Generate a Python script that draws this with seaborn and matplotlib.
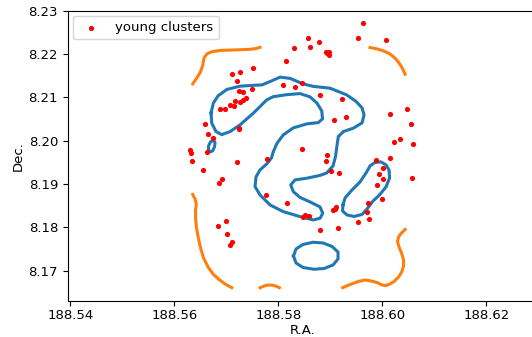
import matplotlib
matplotlib.use("Agg")
import matplotlib.pyplot as plt
import seaborn as sns
import pandas as pd

# Young star clusters (R.A., Dec. in degrees)
cluster_ra = [
    188.57504, 188.57115, 188.57267, 188.57212, 188.57235, 188.57321, 188.57500,
    188.57375, 188.57325, 188.57260, 188.57171, 188.57075, 188.57144, 188.56879,
    188.56971, 188.57244, 188.57235, 188.56587, 188.56642, 188.56750, 188.56294,
    188.56317, 188.56337, 188.56623, 188.57212, 188.56552, 188.56917, 188.56860,
    188.57754, 188.56994, 188.56846, 188.57008, 188.57104, 188.57065, 188.59629,
    188.59533, 188.60077, 188.58571, 188.58788, 188.58296, 188.58610, 188.58917,
    188.58975, 188.58969, 188.58937, 188.58154, 188.58096, 188.58321, 188.58462,
    188.58808, 188.59225, 188.59062, 188.59302, 188.60154, 188.60481, 188.60552,
    188.60225, 188.60335, 188.60590, 188.58462, 188.57788, 188.58937, 188.58917,
    188.59879, 188.60154, 188.60019, 188.59008, 188.59173, 188.59937, 188.60008,
    188.60565, 188.59898, 188.58173, 188.59994, 188.59729, 188.59706, 188.59115,
    188.59096, 188.59046, 188.58513, 188.58469, 188.58596, 188.59738, 188.59533,
    188.58808, 188.59148,
]
cluster_dec = [
    8.21666, 8.21528, 8.21581, 8.21378, 8.21147, 8.21124, 8.21198,
    8.20992, 8.20939, 8.20900, 8.20904, 8.20812, 8.20796, 8.20724,
    8.20724, 8.20293, 8.20270, 8.20390, 8.20159, 8.20067, 8.19794,
    8.19721, 8.19538, 8.19734, 8.19497, 8.19319, 8.19121, 8.19028,
    8.18751, 8.18147, 8.18024, 8.17853, 8.17655, 8.17586, 8.22723,
    8.22363, 8.22324, 8.22377, 8.22285, 8.22139, 8.22162, 8.22047,
    8.22047, 8.21966, 8.22012, 8.21846, 8.21285, 8.21232, 8.21331,
    8.21048, 8.20955, 8.20484, 8.20540, 8.20611, 8.20724, 8.20378,
    8.19974, 8.20046, 8.19931, 8.19804, 8.19573, 8.19665, 8.19527,
    8.19559, 8.19589, 8.19365, 8.19301, 8.19243, 8.19224, 8.19121,
    8.19127, 8.18973, 8.18569, 8.18659, 8.18555, 8.18347, 8.18470,
    8.18423, 8.18394, 8.18285, 8.18232, 8.18262, 8.18200, 8.18117,
    8.17946, 8.17985,
]

# Inner (blue) contour level: S-shaped region
s_ra = [
    188.56706, 188.56750, 188.56840, 188.57013, 188.57263, 188.57513, 188.57687,
    188.57840, 188.58033, 188.58225, 188.58475, 188.58667, 188.58994, 188.59315,
    188.59494, 188.59610, 188.59648, 188.59610, 188.59442, 188.59250, 188.59154,
    188.59125, 188.59100, 188.59052, 188.58931, 188.58802, 188.58546, 188.58321,
    188.58238, 188.58288, 188.58417, 188.58610, 188.58802, 188.58854, 188.58802,
    188.58673, 188.58417, 188.58096, 188.57840, 188.57648, 188.57552, 188.57571,
    188.57648, 188.57777, 188.57869, 188.57904, 188.57975, 188.58096, 188.58288,
    188.58546, 188.58769, 188.58850, 188.58835, 188.58744, 188.58610, 188.58417,
    188.58162, 188.57904, 188.57777, 188.57519, 188.57263, 188.57071, 188.56912,
    188.56802, 188.56719, 188.56706,
]
s_dec = [
    8.20639, 8.20863, 8.21031, 8.21181, 8.21255, 8.21274, 8.21285,
    8.21361, 8.21463, 8.21435, 8.21308, 8.21251, 8.21209, 8.21054,
    8.20904, 8.20754, 8.20593, 8.20408, 8.20286, 8.20207, 8.20092,
    8.19861, 8.19631, 8.19416, 8.19254, 8.19197, 8.19132, 8.19093,
    8.18977, 8.18823, 8.18689, 8.18585, 8.18470, 8.18324, 8.18209,
    8.18170, 8.18246, 8.18361, 8.18516, 8.18747, 8.18938, 8.19162,
    8.19324, 8.19462, 8.19600, 8.19746, 8.19940, 8.20131, 8.20293,
    8.20385, 8.20415, 8.20501, 8.20685, 8.20863, 8.21008, 8.21084,
    8.21059, 8.21013, 8.20939, 8.20632, 8.20362, 8.20207, 8.20138,
    8.20207, 8.20401, 8.20639,
]

# Small blue island west of the S
knot_ra = [188.56658, 188.56658, 188.56696, 188.56754, 188.56783,
           188.56773, 188.56735, 188.56687, 188.56658]
knot_dec = [8.19774, 8.19877, 8.19970, 8.20004, 8.19958,
            8.19854, 8.19762, 8.19739, 8.19774]

# Elongated blue loop to the east
loop_ra = [
    188.59244, 188.59283, 188.59417, 188.59571, 188.59687, 188.59764, 188.59860,
    188.59975, 188.60071, 188.60129, 188.60139, 188.60071, 188.59937, 188.59821,
    188.59706, 188.59610, 188.59456, 188.59321, 188.59235, 188.59244,
]
loop_dec = [
    8.18516, 8.18677, 8.18862, 8.19047, 8.19254, 8.19416, 8.19497,
    8.19508, 8.19439, 8.19324, 8.19139, 8.18931, 8.18735, 8.18608,
    8.18423, 8.18297, 8.18250, 8.18285, 8.18377, 8.18516,
]

# Blue oval in the south
oval_ra = [
    188.58292, 188.58340, 188.58475, 188.58667, 188.58860, 188.59033, 188.59148,
    188.59148, 188.59052, 188.58879, 188.58687, 188.58475, 188.58340, 188.58292,
]
oval_dec = [
    8.17339, 8.17500, 8.17604, 8.17655, 8.17639, 8.17558, 8.17431,
    8.17270, 8.17131, 8.17050, 8.17032, 8.17073, 8.17177, 8.17339,
]

# Outer (orange) contour level, open segments
outer_nw_ra = [188.56354, 188.56427, 188.56504, 188.56548, 188.56571, 188.56629,
               188.56725, 188.56879, 188.57200, 188.57456, 188.57571, 188.57648]
outer_nw_dec = [8.21308, 8.21435, 8.21585, 8.21747, 8.21908, 8.22001,
                8.22051, 8.22079, 8.22093, 8.22105, 8.22123, 8.22151]

outer_ne_ra = [188.59764, 188.59898, 188.60019, 188.60129, 188.60212,
               188.60283, 188.60340, 188.60392, 188.60437]
outer_ne_dec = [8.22146, 8.22116, 8.22070, 8.22012, 8.21936,
                8.21851, 8.21758, 8.21654, 8.21532]

outer_sw_ra = [188.56354, 188.56398, 188.56423, 188.56408, 188.56408, 188.56427,
               188.56462, 188.56504, 188.56562, 188.56648, 188.56750, 188.56860,
               188.56975, 188.57104]
outer_sw_dec = [8.18758, 8.18654, 8.18539, 8.18400, 8.18216, 8.17985,
                8.17754, 8.17523, 8.17293, 8.17085, 8.16916, 8.16796,
                8.16693, 8.16607]

outer_s_ra = [188.57648, 188.57725, 188.57802, 188.57888, 188.57965, 188.58019]
outer_s_dec = [8.16607, 8.16646, 8.16669, 8.16665, 8.16639, 8.16607]

outer_se_ra = [
    188.59238, 188.59340, 188.59442, 188.59552, 188.59667, 188.59783, 188.59898,
    188.59994, 188.60071, 188.60148, 188.60225, 188.60312, 188.60373, 188.60408,
    188.60408, 188.60369, 188.60321, 188.60292, 188.60312, 188.60360, 188.60437,
]
outer_se_dec = [
    8.16607, 8.16662, 8.16709, 8.16755, 8.16785, 8.16762, 8.16727,
    8.16669, 8.16658, 8.16693, 8.16750, 8.16854, 8.16969, 8.17108,
    8.17246, 8.17408, 8.17546, 8.17673, 8.17777, 8.17858, 8.17950,
]

BLUE = "#1f77b4"
ORANGE = "#ff7f0e"

plt.rcParams["font.size"] = 9.5

fig = plt.figure(figsize=(5.32, 3.37), dpi=100)
ax = fig.add_axes([0.1273, 0.1068, 0.8846, 0.862])


def draw_curve(xs, ys, color):
    df = pd.DataFrame({"ra": xs, "dec": ys})
    sns.lineplot(data=df, x="ra", y="dec", sort=False, estimator=None,
                 color=color, linewidth=2.2, legend=False, ax=ax)


for xs, ys in [(s_ra, s_dec), (knot_ra, knot_dec), (loop_ra, loop_dec),
               (oval_ra, oval_dec)]:
    draw_curve(xs, ys, BLUE)

for xs, ys in [(outer_nw_ra, outer_nw_dec), (outer_ne_ra, outer_ne_dec),
               (outer_sw_ra, outer_sw_dec), (outer_s_ra, outer_s_dec),
               (outer_se_ra, outer_se_dec)]:
    draw_curve(xs, ys, ORANGE)

clusters = pd.DataFrame({"ra": cluster_ra, "dec": cluster_dec})
sns.scatterplot(data=clusters, x="ra", y="dec", color="red", s=14,
                linewidth=0, label="young clusters", ax=ax, zorder=3)

ax.set_xlim(188.5395, 188.63)
ax.set_ylim(8.163, 8.23)
ax.set_xticks([188.54, 188.56, 188.58, 188.60, 188.62])
ax.set_xticklabels(["188.54", "188.56", "188.58", "188.60", "188.62"])
ax.set_yticks([8.17, 8.18, 8.19, 8.20, 8.21, 8.22, 8.23])
ax.set_yticklabels(["8.17", "8.18", "8.19", "8.20", "8.21", "8.22", "8.23"])
ax.tick_params(axis="x", pad=2.5)
ax.set_xlabel("R.A.", labelpad=1.5)
ax.set_ylabel("Dec.", labelpad=3)
ax.legend(loc="upper left", scatterpoints=1, borderaxespad=0.4)

fig.savefig("out.png", dpi=100)
